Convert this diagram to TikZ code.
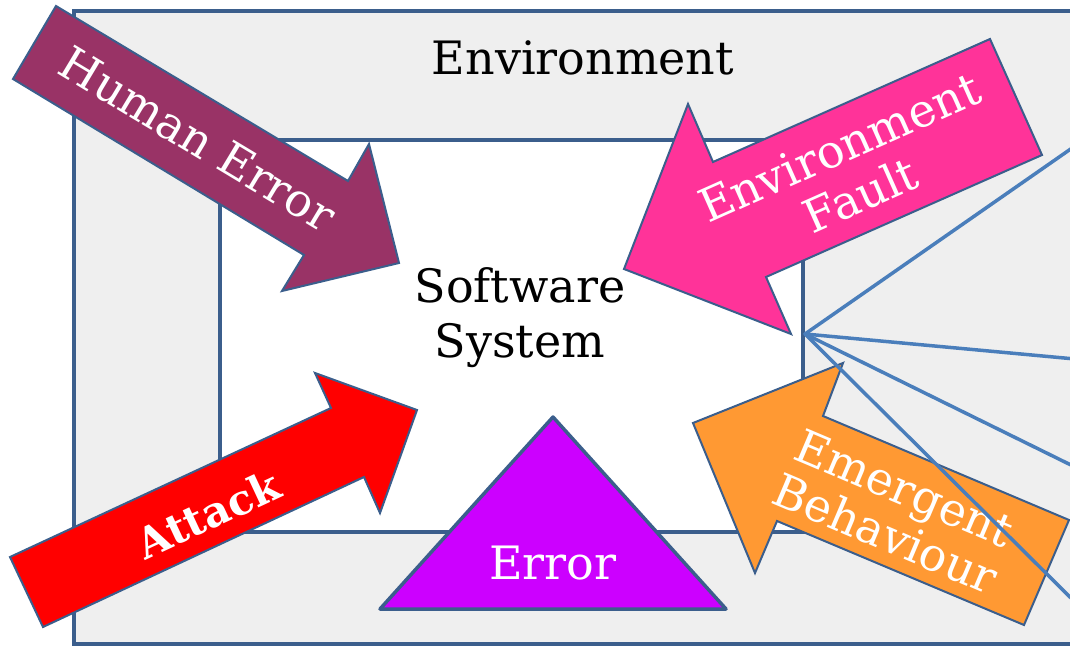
\documentclass[tikz,border=0pt]{standalone}
\usepackage{fontspec}
\setmainfont{DejaVu Serif}
\definecolor{frameblue}{HTML}{3B5E8C}
\definecolor{rayblue}{HTML}{4A7EBB}
\definecolor{envgray}{HTML}{EFEFEF}
\definecolor{humancol}{HTML}{993366}
\definecolor{faultcol}{HTML}{FF3399}
\definecolor{attackcol}{HTML}{FF0000}
\definecolor{emergecol}{HTML}{FF9933}
\definecolor{errorcol}{HTML}{CC00FF}
\begin{document}
\begin{tikzpicture}[x=1pt,y=1pt,
  frame/.style={draw=frameblue, line width=4.5pt},
  blockarrow/.style={draw=frameblue, line width=2pt, line join=miter},
  whitelabel/.style={text=white, font=\fontsize{46}{52}\selectfont, align=center, inner sep=0pt},
  blacklabel/.style={text=black, font=\fontsize{46}{55}\selectfont, align=center, inner sep=0pt},
  ray/.style={draw=rayblue, line width=3.5pt, line cap=round}]
\useasboundingbox (0,0) rectangle (1070,-647);
\clip (0,0) rectangle (1070,-647);

% environment and software system boxes
\draw[frame, fill=envgray] (74,-11) rectangle (1090,-644);
\draw[frame, fill=white] (220,-140) rectangle (803,-532);
\node[blacklabel] (env) at (583,-58) {Environment};
\node[blacklabel] (sys) at (520,-318) {Software\\System};

% human error arrow
\draw[blockarrow, fill=humancol]
  (56,-6) -- (348,-181) -- (369,-144) -- (399,-263) -- (282,-291) -- (304,-255) -- (13,-79) -- cycle;
\node[whitelabel, rotate=-31] (human) at (198,-139) {Human Error};

% environment fault arrow
\draw[blockarrow, fill=faultcol]
  (990,-39) -- (713,-162) -- (688,-104) -- (624,-269) -- (791,-334) -- (766,-277) -- (1042,-155) -- cycle;
\node[whitelabel, rotate=24] (fault) at (850,-171) {Environment\\Fault};

% attack arrow
\draw[blockarrow, fill=attackcol]
  (10,-557) -- (331,-408) -- (315,-373) -- (417,-410) -- (380,-513) -- (364,-477) -- (43,-627) -- cycle;
\node[whitelabel, rotate=25, font=\fontsize{42}{48}\selectfont\bfseries] (attack) at (208,-514) {Attack};

% error triangle
\draw[draw=frameblue, line width=3.5pt, line join=round, fill=errorcol]
  (553,-417) -- (726,-609) -- (380,-609) -- cycle;
\node[whitelabel] (err) at (553,-563) {Error};

% emergent behaviour arrow
\draw[blockarrow, fill=emergecol]
  (1069,-520) -- (823,-416) -- (843,-363) -- (693,-423) -- (755,-573) -- (777,-521) -- (1024,-625) -- cycle;
\node[whitelabel, rotate=-23, font=\fontsize{46}{49}\selectfont] (emerge) at (895,-511) {Emergent\\Behaviour};

% rays leaving the system boundary
\coordinate (hub) at (805,-334);
\coordinate (r1) at (1075,-146);
\coordinate (r2) at (1075,-359);
\coordinate (r3) at (1075,-467);
\coordinate (r4) at (1075,-602);
\draw[ray] (hub) -- (r1);
\draw[ray] (hub) -- (r2);
\draw[ray] (hub) -- (r3);
\draw[ray] (hub) -- (r4);
\end{tikzpicture}
\end{document}
